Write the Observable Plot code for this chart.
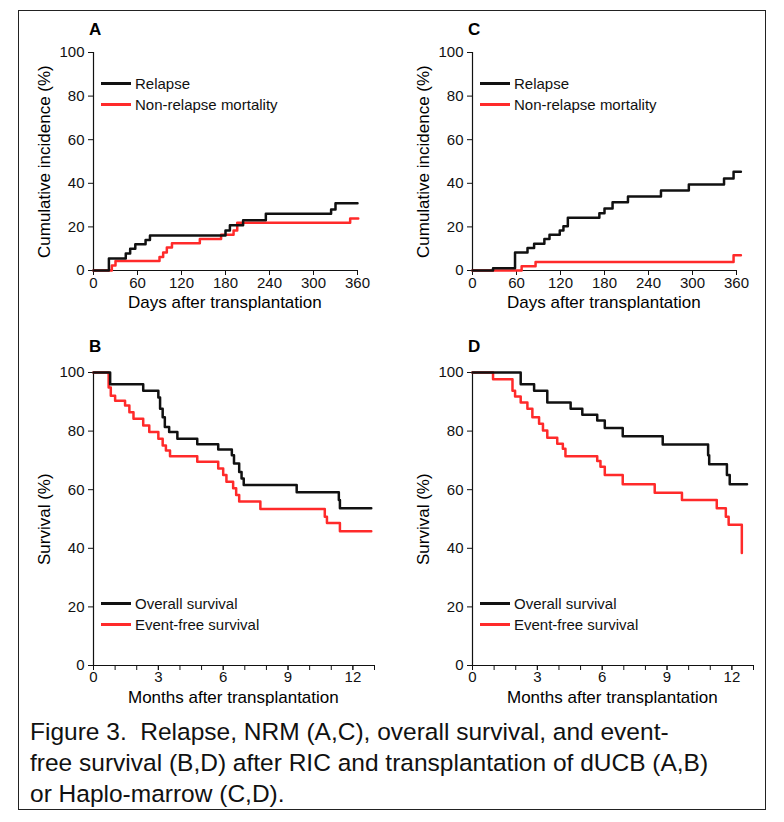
<!DOCTYPE html>
<html><head><meta charset="utf-8">
<script src="https://cdn.jsdelivr.net/npm/d3@7"></script>
<script src="https://cdn.jsdelivr.net/npm/@observablehq/plot@0.6"></script>
<style>
body{margin:0;background:#fff;font-family:"Liberation Sans",Arial,sans-serif;}
#fig{position:relative;width:784px;height:822px;}
#frame{position:absolute;left:18px;top:10px;width:748px;height:800px;border:1.5px solid #222;box-sizing:border-box;}
.panel{position:absolute;}
.letter{position:absolute;font-weight:bold;font-size:17px;}
.leg{position:absolute;font-size:15px;color:#111;display:flex;align-items:center;height:20px;}
.leg span.sw{display:inline-block;width:30px;height:3px;margin-right:4px;}
#cap{position:absolute;left:30px;top:716px;width:735px;font-size:24.5px;line-height:31px;color:#111;white-space:nowrap;}
</style></head>
<body><div id="fig"><div id="frame"></div></div>
<script>
// --- Panel A : dUCB, incidence cumulée (jours, %) ---
const aRelapseT = [0, 21, 44, 50, 57, 71, 77, 180, 186, 204, 235, 324, 330, 360];
const aRelapseV = [0, 5.5, 7.8, 10, 12, 14, 16, 18.4, 20.8, 23, 26, 28, 30.8, 30.8];
const aNrmT = [0, 25, 30, 90, 95, 100, 107, 145, 174, 191, 196, 350, 361];
const aNrmV = [0, 2.3, 4.4, 6.2, 8.3, 10.5, 12.5, 14.5, 16.4, 18.4, 21.9, 23.9, 23.9];
// --- Panel C : Haplo-marrow ---
const cRelapseT = [0, 28, 58, 75, 84, 98, 105, 119, 124, 130, 173, 180, 191, 212, 257, 295, 343, 356, 366];
const cRelapseV = [0, 1, 8.3, 10.3, 12.3, 14.4, 16.4, 18.4, 20.3, 24.2, 26.3, 28.4, 31.3, 34, 36.7, 39.5, 42.2, 45.3, 45.3];
const cNrmT = [0, 67, 86, 356, 366];
const cNrmV = [0, 1.9, 3.9, 7, 7];
// --- Panel B : survie dUCB (mois, %) ---
const bOsT = [0, 0.77, 2.3, 3.0, 3.08, 3.2, 3.3, 3.5, 3.88, 4.8, 5.77, 6.4, 6.5, 6.74, 6.85, 6.95, 9.4, 11.35, 11.4, 12.85];
const bOsV = [100, 96, 93.8, 91.5, 87.6, 84.7, 81.4, 79.7, 77.4, 75.5, 73.7, 71.8, 68.9, 66, 63.8, 61.6, 59.1, 56.5, 53.7, 53.7];
const bEfsT = [0, 0.7, 0.8, 1.0, 1.46, 1.66, 1.85, 2.3, 2.58, 3.0, 3.2, 3.35, 3.54, 4.8, 5.77, 6.0, 6.15, 6.46, 6.6, 6.74, 7.72, 10.7, 10.8, 11.4, 12.85];
const bEfsV = [100, 94.9, 92.1, 90.4, 88.7, 86.4, 84.2, 81.9, 79.7, 77.4, 75.1, 73.4, 71.4, 69.5, 67.2, 65, 62.7, 60.5, 58.2, 56, 53.4, 50.8, 48.6, 45.8, 45.8];
// --- Panel D : survie Haplo ---
const dOsT = [0, 2.23, 2.85, 3.46, 4.54, 5.08, 5.77, 6.12, 6.95, 8.8, 10.9, 10.95, 11.77, 11.9, 12.7];
const dOsV = [100, 96, 93.8, 89.8, 87.6, 85.6, 83.6, 81.1, 78.2, 75.4, 71.8, 68.7, 65, 61.9, 61.9];
const dEfsT = [0, 0.95, 1.85, 1.97, 2.23, 2.54, 2.77, 3.08, 3.26, 3.46, 3.92, 4.18, 4.3, 5.77, 5.92, 6.12, 6.95, 8.43, 9.69, 11.3, 11.72, 11.85, 12.46];
const dEfsV = [100, 97.7, 93.8, 91.8, 89.8, 87.6, 84.7, 82.5, 80.2, 77.7, 75.7, 74, 71.4, 69.8, 67.8, 65, 61.9, 59, 56.5, 53.7, 50.8, 48, 38.4];

const dayTicks = [0, 60, 120, 180, 240, 300, 360];
const monthLabels = [0, 3, 6, 9, 12];
const monthMinor = d3.range(0, 14);
const pctTicks = [0, 20, 40, 60, 80, 100];
const captionLines = [
  "Figure 3.\u00a0 Relapse, NRM (A,C), overall survival, and event-",
  "free survival (B,D) after RIC and transplantation of dUCB (A,B)",
  "or Haplo-marrow (C,D)."
];

const toRows = (T, V) => T.map((t, i) => ({t, v: V[i]}));
const fig = document.getElementById("fig");

function panel({left, top, width, height, mt, mb, ml, mr, xDomain, yLabel, xLabel, series, incidence}) {
  const xAxes = incidence
    ? [Plot.axisX({ticks: dayTicks, tickSize: 5, tickPadding: 2, fontSize: 15, label: null})]
    : [Plot.ruleX(monthMinor, {x: d => d, y1: 0, y2: 0, insetBottom: -5, stroke: "#111"}),
       Plot.axisX({ticks: monthLabels, tickSize: 5, tickPadding: 1, fontSize: 15, label: null})];
  const p = Plot.plot({
    width, height, marginTop: mt, marginBottom: mb, marginLeft: ml, marginRight: mr,
    style: {fontFamily: "Liberation Sans, Arial, sans-serif", fontSize: "15px", color: "#111", background: "white", overflow: "visible"},
    x: {domain: xDomain},
    y: {domain: [0, 100]},
    marks: [
      Plot.axisY({ticks: pctTicks, tickSize: 5, fontSize: 15, label: null}),
      ...xAxes,
      Plot.ruleX([xDomain[0]], {stroke: "#111", strokeWidth: 1.2}),
      Plot.ruleY([0], {stroke: "#111", strokeWidth: 1.2}),
      ...series.map(s => Plot.line(toRows(s.T, s.V), {x: "t", y: "v", curve: "step-after", stroke: s.color, strokeWidth: 2.5}))
    ]
  });
  const d = document.createElement("div");
  d.className = "panel";
  d.style.left = left + "px"; d.style.top = top + "px";
  d.appendChild(p);
  fig.appendChild(d);
  // titres d'axes
  const yl = document.createElement("div");
  yl.textContent = yLabel;
  yl.style.cssText = `position:absolute;font-size:17px;white-space:nowrap;transform-origin:left top;transform:rotate(-90deg);left:${left + ml - 58}px;top:0px;`;
  fig.appendChild(yl);
  yl.style.top = (top + mt + (height - mt - mb) / 2 + yl.offsetWidth / 2) + "px";
  const xl = document.createElement("div");
  xl.textContent = xLabel;
  xl.style.cssText = `position:absolute;font-size:17px;line-height:18px;white-space:nowrap;top:${top + height - mb + 24}px;`;
  fig.appendChild(xl);
  xl.style.left = (left + ml + (width - ml - mr) / 2 - xl.offsetWidth / 2) + "px";
}

function addText(cls, txt, x, y) {
  const e = document.createElement("div");
  e.className = cls; e.textContent = txt;
  e.style.left = x + "px"; e.style.top = y + "px";
  fig.appendChild(e); return e;
}
function legend(x, y, items) {
  items.forEach((it, i) => {
    const e = addText("leg", "", x, y + i * 21);
    e.innerHTML = `<span class="sw" style="background:${it.color}"></span>${it.label}`;
  });
}

const black = "#111", red = "#ff2a2a";
panel({left: 20, top: 22, width: 345, height: 300, mt: 30, mb: 52, ml: 73, mr: 8, xDomain: [0, 360],
  yLabel: "Cumulative incidence (%)", xLabel: "Days after transplantation", incidence: true,
  series: [{T: aNrmT, V: aNrmV, color: red}, {T: aRelapseT, V: aRelapseV, color: black}]});
panel({left: 399, top: 22, width: 345, height: 300, mt: 30, mb: 52, ml: 73, mr: 8, xDomain: [0, 360],
  yLabel: "Cumulative incidence (%)", xLabel: "Days after transplantation", incidence: true,
  series: [{T: cNrmT, V: cNrmV, color: red}, {T: cRelapseT, V: cRelapseV, color: black}]});
panel({left: 20, top: 352, width: 360, height: 365, mt: 20, mb: 52, ml: 73, mr: 6, xDomain: [0, 13],
  yLabel: "Survival (%)", xLabel: "Months after transplantation", incidence: false,
  series: [{T: bEfsT, V: bEfsV, color: red}, {T: bOsT, V: bOsV, color: black}]});
panel({left: 399, top: 352, width: 360, height: 365, mt: 20, mb: 52, ml: 73, mr: 6, xDomain: [0, 13],
  yLabel: "Survival (%)", xLabel: "Months after transplantation", incidence: false,
  series: [{T: dEfsT, V: dEfsV, color: red}, {T: dOsT, V: dOsV, color: black}]});

addText("letter", "A", 89, 20);
addText("letter", "C", 468, 20);
addText("letter", "B", 89, 337);
addText("letter", "D", 468, 337);
legend(101, 73, [{label: "Relapse", color: black}, {label: "Non-relapse mortality", color: red}]);
legend(480, 73, [{label: "Relapse", color: black}, {label: "Non-relapse mortality", color: red}]);
legend(101, 593, [{label: "Overall survival", color: black}, {label: "Event-free survival", color: red}]);
legend(480, 593, [{label: "Overall survival", color: black}, {label: "Event-free survival", color: red}]);

const cap = document.createElement("div");
cap.id = "cap";
captionLines.forEach(l => { const s = document.createElement("div"); s.textContent = l; cap.appendChild(s); });
fig.appendChild(cap);
</script></body></html>
